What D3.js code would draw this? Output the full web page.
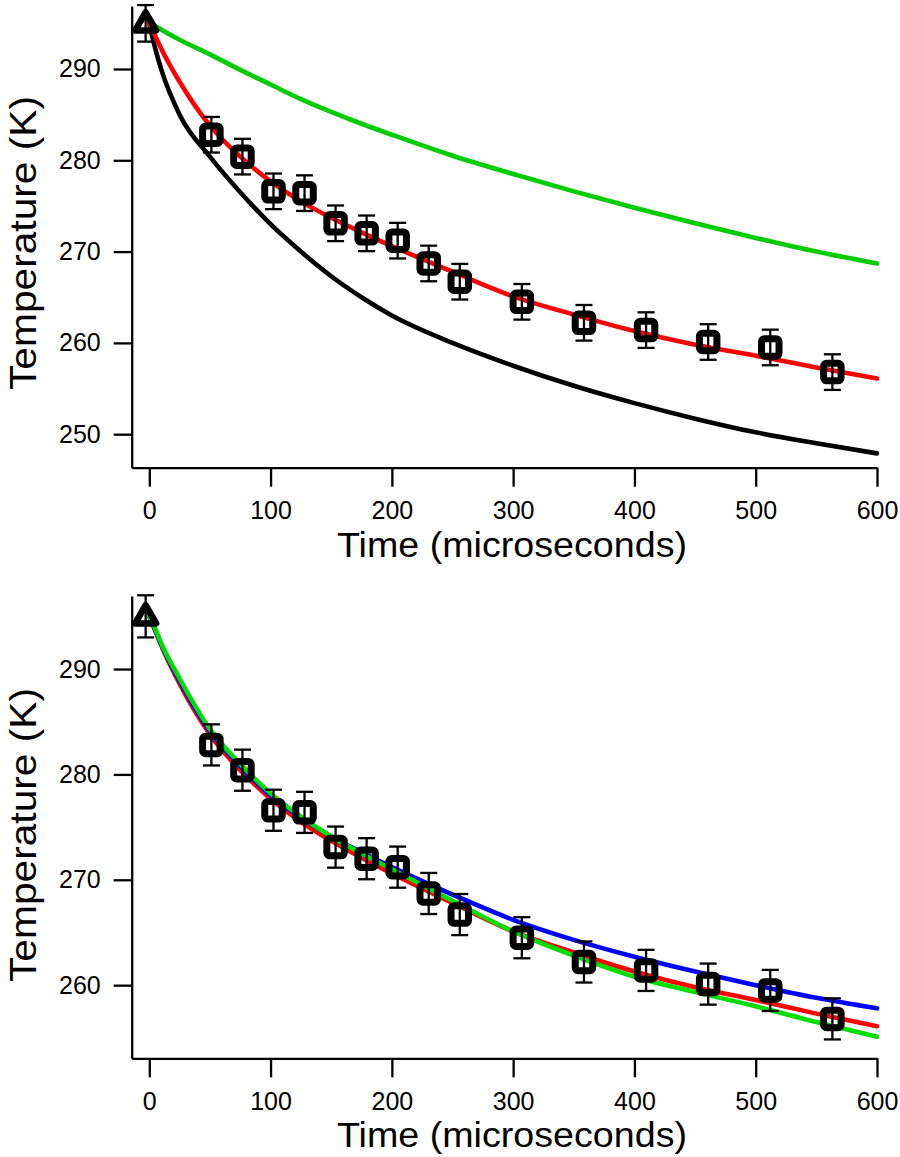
<!DOCTYPE html>
<html>
<head>
<meta charset="utf-8">
<script src="https://cdn.jsdelivr.net/npm/d3@7"></script>
<style>
    body { margin: 0; background: #fff; }
    svg text { font-family: "Liberation Sans", Arial, sans-serif; fill: #000; }
</style>
</head>
<body>
<div id="chart"></div>
<script>
// measured points (time in microseconds, temperature in K)
var startTime = -3,
    startTemp = 295,
    startErr = 2;

var pointTime = [51.2, 76.8, 102.4, 128, 153.6, 179.2, 204.8, 230.4, 256, 307.2, 358.4, 409.6, 460.8, 512, 563.2];
var pointTemp = [282.8, 280.4, 276.6, 276.4, 273.1, 272.0, 271.2, 268.7, 266.7, 264.5, 262.2, 261.4, 260.1, 259.5, 256.8];
var pointErr  = [1.95, 1.95, 1.95, 1.95, 1.95, 1.95, 1.95, 1.95, 1.95, 1.95, 1.95, 1.95, 1.95, 1.95, 1.95];

// model curves
var curveTime  = [0, 5, 10, 25, 50, 75, 100, 125, 150, 175, 200, 250, 300, 350, 400, 450, 500, 550, 600];
var topBlack   = [295, 292.2, 289.9, 285.0, 280.4, 276.5, 273.0, 270.0, 267.3, 265.0, 263.0, 260.0, 257.5, 255.3, 253.4, 251.7, 250.2, 249.0, 247.9];
var topRed     = [295, 293.6, 292.2, 288.6, 283.8, 280.4, 277.7, 275.5, 273.7, 272.1, 270.6, 267.8, 265.1, 263.1, 261.3, 259.8, 258.6, 257.3, 256.1];
var topGreen   = [295, 294.7, 294.3, 293.2, 291.6, 289.9, 288.3, 286.7, 285.3, 284.0, 282.8, 280.5, 278.5, 276.6, 274.8, 273.1, 271.5, 270.0, 268.7];
var lowRed     = topRed;
var lowBlue    = [295, 293.7, 292.3, 288.9, 284.1, 280.8, 278.0, 275.9, 274.1, 272.6, 271.2, 268.6, 266.2, 264.3, 262.7, 261.3, 260.0, 258.8, 257.8];
var lowGreen   = [295, 293.8, 292.4, 289.1, 284.3, 281.0, 278.2, 276.0, 274.1, 272.5, 271.0, 268.0, 265.1, 262.8, 260.8, 259.35, 258.0, 256.5, 255.1];

var xTicks = [0, 100, 200, 300, 400, 500, 600];
var topYTicks = [250, 260, 270, 280, 290];
var lowYTicks = [260, 270, 280, 290];

var xTitle = 'Time (microseconds)',
    yTitle = 'Temperature (K)';

var width = 900, height = 1157;

var svg = d3.select('#chart').append('svg')
    .attr('width', width)
    .attr('height', height);

function panel(opts) {
    var xScale = d3.scaleLinear().domain([-14.5, 600]).range([131.7, 877]),
        yScale = d3.scaleLinear().domain(opts.ydomain).range([opts.bottom, opts.top]);

    var g = svg.append('g').attr('class', 'panel');

    var line = d3.line()
        .curve(d3.curveMonotoneX)
        .x(function(d) { return xScale(d.x); })
        .y(function(d) { return yScale(d.y); });

    opts.curves.forEach(function(c) {
        var pts = curveTime.map(function(t, i) { return {x: t, y: c.values[i]}; });
        g.append('path')
            .attr('d', line(pts))
            .attr('fill', 'none')
            .attr('stroke', c.color)
            .attr('stroke-width', 4.6)
            .attr('stroke-linecap', 'round');
    });

    // axes
    var xAxis = d3.axisBottom(xScale).tickValues(xTicks).tickSize(19).tickSizeOuter(0).tickPadding(15);
    var yAxis = d3.axisLeft(yScale).tickValues(opts.yticks).tickSize(18).tickSizeOuter(0).tickPadding(13);

    var gx = g.append('g')
        .attr('transform', 'translate(0,' + opts.bottom + ')')
        .call(xAxis);
    var gy = g.append('g')
        .attr('transform', 'translate(131.7,0)')
        .call(yAxis);

    [gx, gy].forEach(function(a) {
        a.select('.domain').attr('stroke', '#000').attr('stroke-width', 2.3);
        a.selectAll('.tick line').attr('stroke', '#000').attr('stroke-width', 2.3);
        a.selectAll('.tick text')
            .style('font-size', '25px')
            .style('font-family', '"Liberation Sans", Arial, sans-serif')
            .attr('fill', '#000');
    });

    // error bars
    var errs = pointTime.map(function(t, i) { return {x: t, y: pointTemp[i], e: pointErr[i]}; });
    errs.push({x: startTime, y: startTemp, e: startErr});

    var eb = g.append('g').selectAll('g')
        .data(errs)
        .enter().append('g')
        .attr('stroke', '#000')
        .attr('stroke-width', 2.3);
    eb.append('line')
        .attr('x1', function(d) { return xScale(d.x); })
        .attr('x2', function(d) { return xScale(d.x); })
        .attr('y1', function(d) { return yScale(d.y + d.e); })
        .attr('y2', function(d) { return yScale(d.y - d.e); });
    eb.append('line')
        .attr('x1', function(d) { return xScale(d.x) - 8.5; })
        .attr('x2', function(d) { return xScale(d.x) + 8.5; })
        .attr('y1', function(d) { return yScale(d.y + d.e); })
        .attr('y2', function(d) { return yScale(d.y + d.e); });
    eb.append('line')
        .attr('x1', function(d) { return xScale(d.x) - 8.5; })
        .attr('x2', function(d) { return xScale(d.x) + 8.5; })
        .attr('y1', function(d) { return yScale(d.y - d.e); })
        .attr('y2', function(d) { return yScale(d.y - d.e); });

    // hollow square markers
    g.append('g').selectAll('rect')
        .data(pointTime)
        .enter().append('rect')
        .attr('x', function(d) { return xScale(d) - 8.75; })
        .attr('y', function(d, i) { return yScale(pointTemp[i]) - 8.75; })
        .attr('width', 17.5)
        .attr('height', 17.5)
        .attr('rx', 3)
        .attr('fill', 'none')
        .attr('stroke', '#000')
        .attr('stroke-width', 7);

    // start point triangle
    g.append('path')
        .attr('d', d3.symbol().type(d3.symbolTriangle).size(190)())
        .attr('transform', 'translate(' + xScale(startTime) + ',' + (yScale(startTemp) + 1) + ')')
        .attr('fill', 'none')
        .attr('stroke', '#000')
        .attr('stroke-width', 6.5)
        .attr('stroke-linejoin', 'round');

    // titles
    g.append('text')
        .attr('x', 512)
        .attr('y', opts.bottom + 89)
        .attr('text-anchor', 'middle')
        .attr('textLength', 350)
        .attr('lengthAdjust', 'spacingAndGlyphs')
        .style('font-size', '35px')
        .text(xTitle);

    g.append('text')
        .attr('transform', 'translate(36,' + opts.ymid + ') rotate(-90)')
        .attr('text-anchor', 'middle')
        .attr('textLength', 294)
        .attr('lengthAdjust', 'spacingAndGlyphs')
        .style('font-size', '36px')
        .text(yTitle);
}

panel({
    top: 6, bottom: 467.7, ymid: 243,
    ydomain: [246.33, 296.9],
    yticks: topYTicks,
    curves: [
        {color: '#000000', values: topBlack},
        {color: '#00cc00', values: topGreen},
        {color: '#ff0000', values: topRed}
    ]
});

panel({
    top: 596, bottom: 1058.3, ymid: 835,
    ydomain: [253.06, 296.93],
    yticks: lowYTicks,
    curves: [
        {color: '#ff0000', values: lowRed},
        {color: '#0000ff', values: lowBlue},
        {color: '#00dd00', values: lowGreen}
    ]
});
</script>
</body>
</html>
